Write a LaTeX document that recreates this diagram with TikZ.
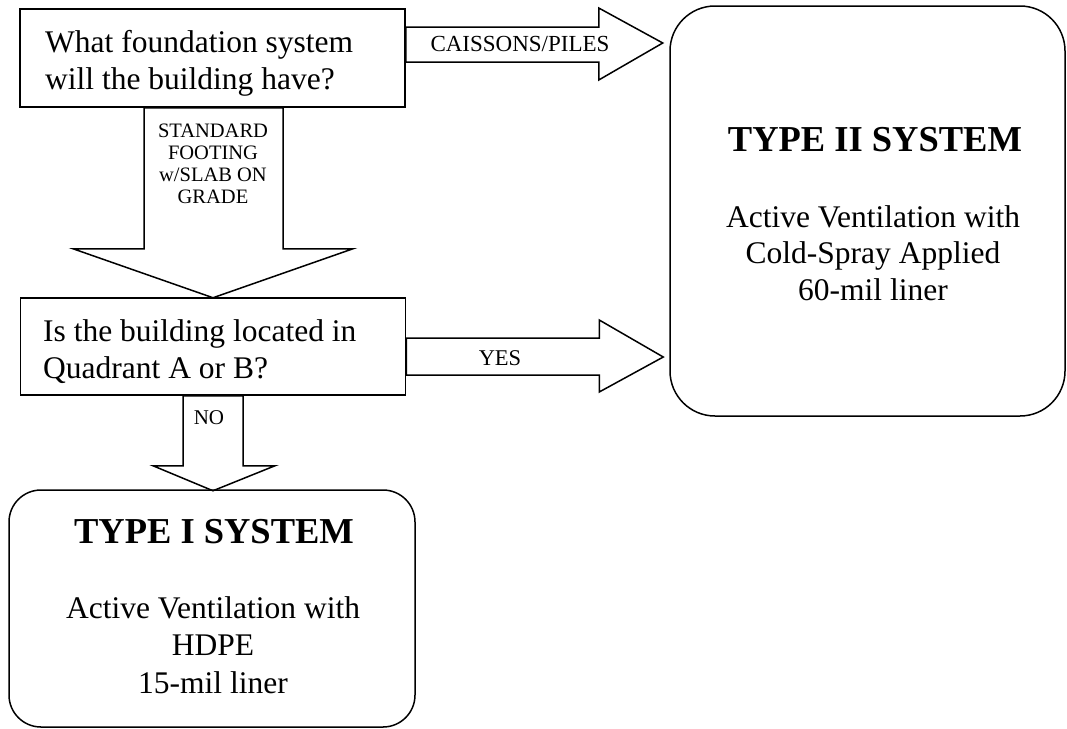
\documentclass[tikz,border=0pt]{standalone}
\usepackage{fontspec}
\setmainfont{Liberation Serif}
\begin{document}
\begin{tikzpicture}[x=1pt,y=-1pt,
  box/.style={draw,line width=1.5pt,inner sep=0pt},
  arr/.style={draw,line width=1.5pt,line join=miter},
  main/.style={font=\fontsize{31.5}{37}\selectfont,inner sep=0pt},
  body/.style={font=\fontsize{31.5}{37}\selectfont,inner sep=0pt,align=center},
  ttl/.style={font=\fontsize{36.5}{40}\selectfont\bfseries,inner sep=0pt},
  lab/.style={inner sep=0pt,align=center}]
\useasboundingbox (0,0) rectangle (1067,728);
% question boxes
\node[box,minimum width=385pt,minimum height=98pt] (q1) at (212.5,58) {};
\node[main,anchor=west,align=left] (q1t) at (45,63.5) {What foundation system\\will the building have?};
\node[box,minimum width=385pt,minimum height=97pt] (q2) at (213,346.5) {};
\node[main,anchor=west,align=left] (q2t) at (43,352) {Is the building located in\\Quadrant A or B?};
% result boxes
\node[box,rounded corners=45pt,minimum width=395pt,minimum height=410pt] (t2) at (867.5,211) {};
\node[ttl] (t2h) at (875,140) {TYPE II SYSTEM};
\node[body,font=\fontsize{31.5}{36.5}\selectfont] (t2b) at (873,253) {Active Ventilation with\\Cold-Spray Applied\\60-mil liner};
\node[box,rounded corners=32pt,minimum width=406pt,minimum height=237pt] (t1) at (212,608.5) {};
\node[ttl] (t1h) at (214,532) {TYPE I SYSTEM};
\node[body,font=\fontsize{31.5}{37.5}\selectfont] (t1b) at (213,645) {Active Ventilation with\\HDPE\\15-mil liner};
% block arrows
\draw[arr] (q1.east) ++(0,-31) -- ++(193,0) -- ++(0,-19) -- ++(64,35) -- ++(-64,37) -- ++(0,-18) -- ++(-193,0) -- cycle;
\draw[arr] (q1.south) ++(-68.5,0) -- ++(0,141) -- ++(-71,0) -- ++(140,49) -- ++(140,-49) -- ++(-70,0) -- ++(0,-141) -- cycle;
\draw[arr] (q2.east) ++(0,-8.5) -- ++(193,0) -- ++(0,-18) -- ++(64,37) -- ++(-64,35) -- ++(0,-17) -- ++(-193,0) -- cycle;
\draw[arr] (q2.south) ++(-30,0) -- ++(0,70) -- ++(-30,0) -- ++(60,25) -- ++(62,-25) -- ++(-32,0) -- ++(0,-70) -- cycle;
% labels
\node[lab,font=\fontsize{23}{25}\selectfont] (lc) at (520,44) {CAISSONS/PILES};
\node[lab,font=\fontsize{20.5}{22}\selectfont] (ls) at (213,164) {STANDARD\\FOOTING\\w/SLAB ON\\GRADE};
\node[lab,font=\fontsize{22.5}{24}\selectfont] (ly) at (500,358) {YES};
\node[lab,font=\fontsize{21}{23}\selectfont] (ln) at (209,418) {NO};
\end{tikzpicture}
\end{document}
